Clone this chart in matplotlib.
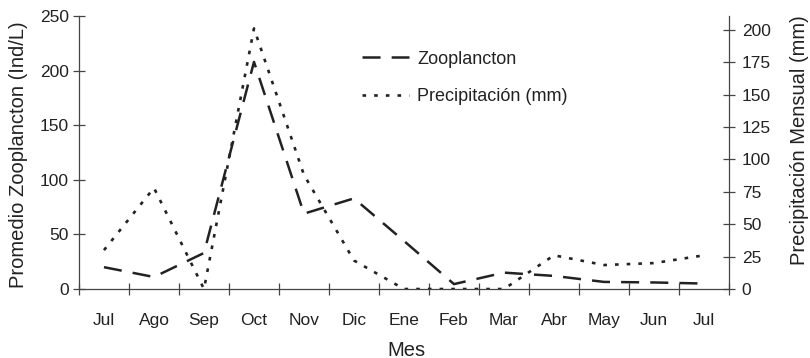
import matplotlib
matplotlib.use("Agg")
import matplotlib.pyplot as plt

plt.rcParams["font.family"] = ["Liberation Sans", "DejaVu Sans"]
plt.rcParams["font.size"] = 12.5
plt.rcParams["lines.scale_dashes"] = False

meses = ["Jul", "Ago", "Sep", "Oct", "Nov", "Dic", "Ene", "Feb", "Mar", "Abr", "May", "Jun", "Jul"]
zooplancton = [20, 11, 33, 208, 69, 83, 44, 4.5, 15, 12, 6.5, 6, 5]
precipitacion = [30, 78, 0, 201, 88, 22, 0, 0, 0, 26, 18.5, 20, 26]

ink = "#222222"
x = list(range(len(meses)))

fig = plt.figure(figsize=(8.1, 3.58), dpi=100)
ax = fig.add_axes([0.0975, 0.1927, 0.8025, 0.7626])
ax2 = ax.twinx()

l1, = ax.plot(x, zooplancton, color=ink, lw=1.8, dashes=(13, 8), label="Zooplancton")
l2, = ax2.plot(x, precipitacion, color=ink, lw=1.9, dashes=(2.6, 5.8), label="Precipitación (mm)")

ax.set_xlim(-0.5, 12.5)
ax.set_ylim(0, 250)
ax2.set_ylim(0, 210.6)
ax.set_yticks(range(0, 251, 50))
ax2.set_yticks(range(0, 201, 25))

# tick marks between months, labels at the months
ax.set_xticks([i + 0.5 for i in range(-1, 13)])
ax.set_xticklabels([])
ax.set_xticks(x, minor=True)
ax.set_xticklabels(meses, minor=True)
ax.tick_params(axis="x", which="major", direction="inout", length=8.5, width=0.9, color="#444444")
ax.tick_params(axis="x", which="minor", length=0, pad=17.5, labelcolor=ink)
ax.tick_params(axis="y", direction="inout", length=8.5, width=0.9, color="#444444", pad=3, labelcolor=ink)
ax2.tick_params(axis="y", direction="inout", length=8.5, width=0.9, color="#444444", pad=5, labelcolor=ink)

for a in (ax, ax2):
    a.spines["top"].set_visible(False)
    for s in ("left", "right", "bottom"):
        a.spines[s].set_color("#444444")
        a.spines[s].set_linewidth(0.9)
ax.spines["right"].set_visible(False)
ax2.spines["left"].set_visible(False)
ax2.spines["bottom"].set_visible(False)

ax.set_ylabel("Promedio Zooplancton (Ind/L)", color=ink, fontsize=14.5)
ax.yaxis.label.set(va="center", ha="center", rotation_mode="default")
ax.yaxis.set_label_coords(-0.0938, 0.491)
ax2.set_ylabel("Precipitación Mensual (mm)", color=ink, fontsize=14.5)
ax2.yaxis.label.set(va="center", ha="center", rotation_mode="default")
ax2.yaxis.set_label_coords(1.109, 0.546)
ax.set_xlabel("Mes", color=ink, fontsize=14.5)
ax.xaxis.label.set(va="center")
ax.xaxis.set_label_coords(0.503, -0.2234)

ax.legend(handles=[l1, l2], loc="upper left", bbox_to_anchor=(0.4246, 0.9),
          frameon=False, handlelength=2.6, handletextpad=0.45, labelspacing=1.15,
          borderaxespad=0, fontsize=13, labelcolor=ink)

fig.savefig("out.png", dpi=100)
